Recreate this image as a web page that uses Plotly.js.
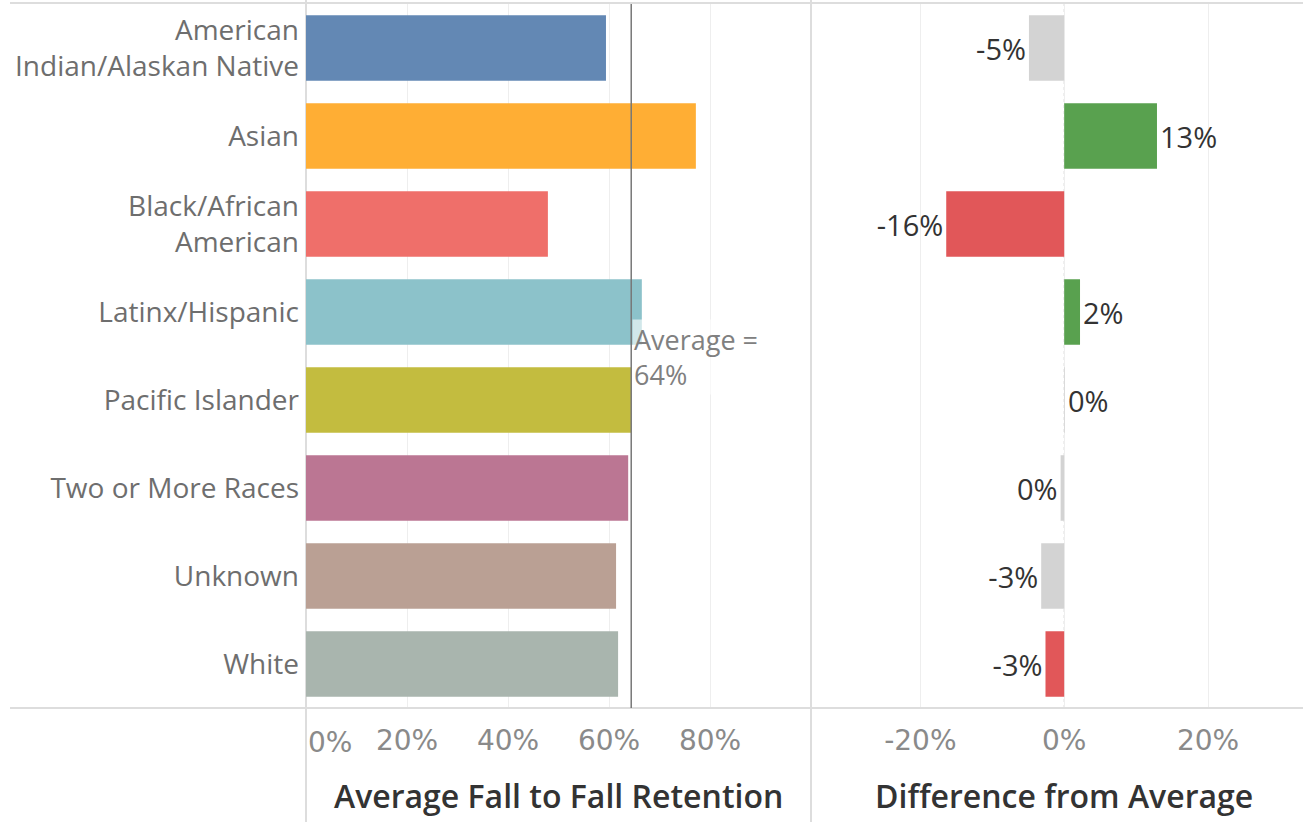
<!DOCTYPE html>
<html>
<head>
<meta charset="utf-8">
<script src="https://cdn.plot.ly/plotly-3.0.1.min.js"></script>
<style>
html, body { margin: 0; padding: 0; background: #ffffff; }
#chart { width: 1303px; height: 822px; }
</style>
</head>
<body>
<div id="chart"></div>
<script>
// ---- Data ----
const categories = [
  'American<br>Indian/Alaskan Native',
  'Asian',
  'Black/African<br>American',
  'Latinx/Hispanic',
  'Pacific Islander',
  'Two or More Races',
  'Unknown',
  'White'
];
const retention = [0.594, 0.772, 0.479, 0.665, 0.644, 0.638, 0.614, 0.618];
const diffFromAverage = [-0.049, 0.129, -0.164, 0.022, 0.001, -0.005, -0.032, -0.026];
const averageRetention = 0.644;
const leftTickValues = [0.2, 0.4, 0.6, 0.8];
const leftTickLabels = ['20%', '40%', '60%', '80%'];
const rightTickValues = [-0.2, 0, 0.2];
const rightTickLabels = ['-20%', '0%', '20%'];

// ---- Styles ----
const retentionColors = ['#6388b4', '#ffae34', '#ef6f6a', '#8cc2ca', '#c3bc3f', '#bb7693', '#baa094', '#a9b5ae'];
const diffColors = ['#d3d3d3', '#59a14f', '#e15759', '#59a14f', '#d3d3d3', '#d3d3d3', '#d3d3d3', '#e15759'];
const FONT = 'Open Sans, Noto Sans, sans-serif';
const NUMFONT = 'DejaVu Sans, Open Sans, sans-serif';

function pct(v) {
  const r = Math.round(v * 100) || 0;
  return r + '%';
}

const traceLeft = {
  type: 'bar',
  orientation: 'h',
  y: categories,
  x: retention,
  xaxis: 'x',
  yaxis: 'y',
  marker: { color: retentionColors },
  hoverinfo: 'y+x',
  showlegend: false
};

const traceRight = {
  type: 'bar',
  orientation: 'h',
  y: categories,
  x: diffFromAverage,
  xaxis: 'x2',
  yaxis: 'y',
  marker: { color: diffColors },
  text: diffFromAverage.map(pct),
  textposition: 'outside',
  constraintext: 'none',
  cliponaxis: false,
  textfont: { family: FONT, size: 29, color: '#333333' },
  showlegend: false
};

const plotLeft = 306, plotRight = 1303, split = 811, plotTop = 4, plotBottom = 708;
const W = plotRight - plotLeft, H = plotBottom - plotTop;
const splitFrac = (split - plotLeft) / W;

const layout = {
  width: 1303,
  height: 822,
  margin: { l: plotLeft, r: 0, t: plotTop, b: 822 - plotBottom, pad: 0 },
  paper_bgcolor: '#ffffff',
  plot_bgcolor: '#ffffff',
  font: { family: FONT, color: '#666666' },
  bargap: 0.255,
  xaxis: {
    domain: [0, splitFrac],
    range: [0, 1.0],
    tickvals: leftTickValues,
    ticktext: leftTickLabels,
    showgrid: true,
    gridcolor: '#eeeeee',
    gridwidth: 1,
    zeroline: false,
    showline: false,
    ticks: '',
    ticklabelstandoff: 13,
    tickfont: { family: NUMFONT, size: 28, color: '#8a8a8a' },
    fixedrange: true
  },
  xaxis2: {
    domain: [splitFrac, 1],
    range: [-0.352, 0.332],
    tickvals: rightTickValues,
    ticktext: rightTickLabels,
    showgrid: true,
    gridcolor: '#eeeeee',
    gridwidth: 1,
    zeroline: false,
    showline: false,
    ticks: '',
    ticklabelstandoff: 13,
    tickfont: { family: NUMFONT, size: 28, color: '#8a8a8a' },
    anchor: 'y',
    fixedrange: true
  },
  yaxis: {
    type: 'category',
    autorange: 'reversed',
    showgrid: false,
    zeroline: false,
    showline: false,
    ticks: '',
    ticklabelstandoff: 6,
    tickfont: { family: FONT, size: 28, color: '#6e6e6e' },
    fixedrange: true
  },
  shapes: [
    // top border
    { type: 'line', xref: 'paper', yref: 'paper', x0: (10 - plotLeft) / W, x1: 1, y0: 1 + 1 / H, y1: 1 + 1 / H,
      line: { color: '#dddddd', width: 2 }, layer: 'below' },
    // bottom axis line
    { type: 'line', xref: 'paper', yref: 'paper', x0: (10 - plotLeft) / W, x1: 1, y0: 0, y1: 0,
      line: { color: '#dddddd', width: 2 }, layer: 'above' },
    // left panel border
    { type: 'line', xref: 'paper', yref: 'paper', x0: 0, x1: 0, y0: (plotBottom - 822) / H, y1: 1 + plotTop / H,
      line: { color: '#dddddd', width: 2 }, layer: 'below' },
    // split border
    { type: 'line', xref: 'paper', yref: 'paper', x0: splitFrac, x1: splitFrac, y0: (plotBottom - 822) / H, y1: 1 + plotTop / H,
      line: { color: '#dddddd', width: 2 }, layer: 'below' },
    // zero line (dotted) on right panel
    { type: 'line', xref: 'x2', yref: 'paper', x0: 0, x1: 0, y0: 0, y1: 1,
      line: { color: '#cccccc', width: 1, dash: 'dot' }, layer: 'below' },
    // average reference line
    { type: 'line', xref: 'x', yref: 'paper', x0: averageRetention, x1: averageRetention, y0: 0, y1: 1,
      line: { color: '#777777', width: 1.5 }, layer: 'above' }
  ],
  annotations: [
    { xref: 'x', yref: 'paper', x: averageRetention, y: (plotBottom - 357) / H, xanchor: 'left', yanchor: 'middle',
      xshift: 1, align: 'left', showarrow: false,
      text: 'Average =<br>' + pct(averageRetention),
      bgcolor: 'rgba(255,255,255,0.6)',
      font: { family: FONT, size: 27, color: '#808080' } },
    { xref: 'x', yref: 'paper', x: 0, y: (plotBottom - 742) / H, xanchor: 'left', yanchor: 'middle',
      xshift: 0, showarrow: false, text: '0%',
      font: { family: NUMFONT, size: 28, color: '#8a8a8a' } },
    { xref: 'paper', yref: 'paper', x: splitFrac / 2, y: (plotBottom - 795) / H, xanchor: 'center', yanchor: 'middle',
      showarrow: false, text: 'Average Fall to Fall Retention',
      font: { family: FONT, size: 32, color: '#333333', weight: 600 } },
    { xref: 'paper', yref: 'paper', x: (1064 - plotLeft) / W, y: (plotBottom - 795) / H, xanchor: 'center', yanchor: 'middle',
      showarrow: false, text: 'Difference from Average',
      font: { family: FONT, size: 32, color: '#333333', weight: 600 } }
  ]
};

Plotly.newPlot('chart', [traceLeft, traceRight], layout, { displayModeBar: false, staticPlot: true });
</script>
</body>
</html>
